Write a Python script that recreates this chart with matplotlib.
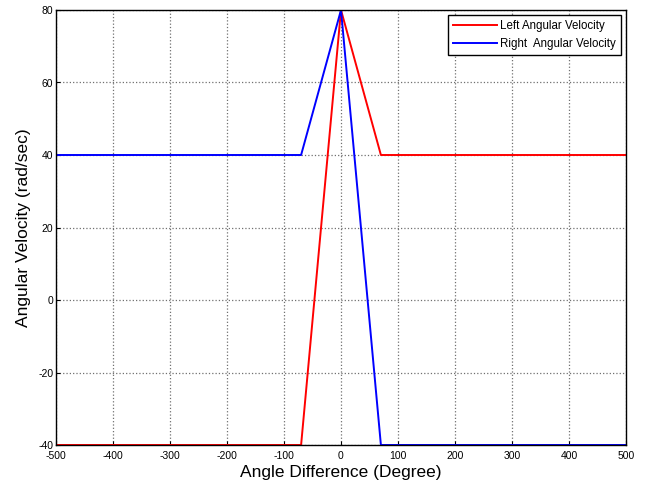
import numpy as np
import matplotlib
matplotlib.use("Agg")
import matplotlib.pyplot as plt

plt.rcParams['font.family'] = ['Liberation Sans', 'DejaVu Sans']
plt.rcParams['axes.unicode_minus'] = False

# angle difference (degree) and wheel speeds (rad/sec)
angle = [-500, -70, 0, 70, 500]
left_vel = [-40, -40, 80, 40, 40]
right_vel = [40, 40, 80, -40, -40]

fig = plt.figure(figsize=(6.48, 4.90), dpi=100)
ax = fig.add_axes([56/648, 45/490, 570/648, 435/490])

ax.plot(angle, left_vel, color='red', lw=1.4, label='Left Angular Velocity')
ax.plot(angle, right_vel, color='blue', lw=1.4, label='Right  Angular Velocity')

ax.set_xlim(-500, 500)
ax.set_ylim(-40, 80)
ax.set_xticks(np.arange(-500, 501, 100))
ax.set_yticks(np.arange(-40, 81, 20))
ax.tick_params(direction='in', labelsize=7.5, length=3, pad=2)
ax.tick_params(axis='x', pad=4)
ax.grid(True, linestyle=':', color='#707070', lw=0.9)
for s in ax.spines.values():
    s.set_linewidth(1.0)

ax.set_xlabel('Angle Difference (Degree)', fontsize=12.5, labelpad=3)
ax.set_ylabel('Angular Velocity (rad/sec)', fontsize=12.5, labelpad=5)

leg = ax.legend(loc='upper right', fontsize=8.3, fancybox=False, framealpha=1,
                edgecolor='black', borderaxespad=0.4, handlelength=3.8,
                borderpad=0.45, labelspacing=0.55, handletextpad=0.3)
leg.get_frame().set_linewidth(1.0)

fig.savefig('out.png', dpi=100)
